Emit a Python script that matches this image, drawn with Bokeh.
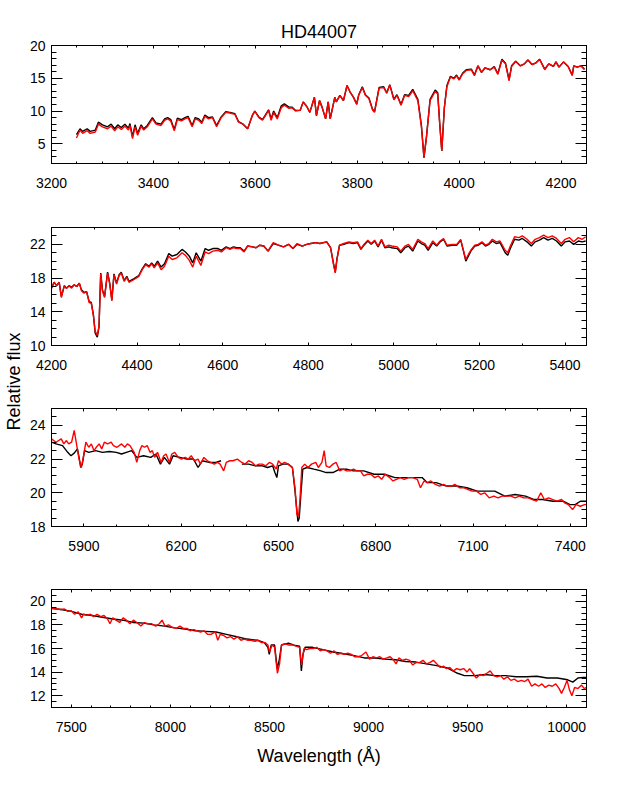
from bokeh.plotting import figure
from bokeh.layouts import row, column
from bokeh.models import Range1d, FixedTicker, LinearAxis, CustomLabelingPolicy, Spacer
from bokeh.embed import file_html
from bokeh.resources import INLINE

NaN = float("nan")

TITLE = "HD44007"
XLABEL = "Wavelength (Å)"
YLABEL = "Relative flux"

# ---------------- Panel 1 ----------------
wl1 = [3249, 3256, 3261, 3270, 3276, 3286, 3292, 3300, 3310, 3317,
       3324, 3330, 3337, 3344, 3351, 3354, 3359, 3364, 3369, 3376,
       3381, 3388, 3398, 3405, 3415, 3422, 3428, 3434, 3441, 3447,
       3455, 3462, 3468, 3476, 3482, 3489, 3495, 3501, 3508, 3516,
       3524, 3533, 3542, 3550, 3560, 3567, 3576, 3585, 3594, 3599,
       3607, 3614, 3619, 3626, 3631, 3636, 3643, 3651, 3657, 3666,
       3672, 3679, 3688, 3694, 3701, 3707, 3716, 3720, 3726, 3731,
       3738, 3743, 3747, 3756, 3759, 3766, 3773, 3780, 3786, 3792,
       3799, 3803, 3810, 3816, 3823, 3830, 3834, 3843, 3852, 3858,
       3864, 3872, 3878, 3886, 3893, 3901, 3909, 3919, 3926, 3931,
       3936, 3943, 3953, 3958, 3962, 3966, 3971, 3976, 3983, 3990,
       3995, 4000, 4007, 4014, 4024, 4030, 4037, 4044, 4051, 4061,
       4069, 4076, 4084, 4091, 4098, 4103, 4111, 4120, 4128, 4135,
       4143, 4150, 4158, 4168, 4176, 4185, 4190, 4196, 4205, 4214,
       4222, 4225, 4232, 4239, 4246]
red1 = [5.9, 7.1, 6.6, 7.0, 6.6, 6.8, 8.0, 7.6, 7.3, 7.7,
        7.0, 7.6, 7.2, 7.7, 7.1, 7.8, 5.8, 7.6, 6.3, 7.7,
        7.1, 7.6, 8.8, 8.0, 7.8, 8.6, 8.8, 8.5, 7.0, 8.7,
        8.5, 8.8, 9.0, 7.6, 8.8, 8.6, 8.1, 9.2, 8.8, 9.0,
        7.6, 9.0, 9.8, 9.7, 9.5, 8.3, 8.0, 7.3, 9.3, 10.0,
        9.0, 8.6, 9.2, 10.1, 8.6, 9.8, 8.8, 10.5, 10.9, 10.4,
        10.5, 10.0, 10.1, 11.4, 10.7, 9.8, 12.1, 9.3, 11.6, 10.6,
        8.8, 11.4, 8.8, 12.1, 11.4, 12.4, 11.6, 13.9, 12.9, 12.2,
        11.0, 12.4, 13.6, 12.4, 11.9, 10.2, 9.8, 13.5, 13.6, 12.7,
        14.0, 11.7, 12.4, 10.9, 12.4, 12.2, 13.1, 11.6, 7.6, 2.9,
        6.1, 11.6, 13.0, 12.6, 8.0, 3.9, 10.5, 13.7, 15.2, 14.9,
        15.4, 14.7, 15.7, 16.2, 16.3, 15.4, 16.9, 15.9, 16.6, 16.3,
        16.7, 15.6, 17.8, 17.2, 14.6, 16.8, 17.6, 16.9, 17.2, 17.8,
        17.1, 17.3, 17.9, 16.3, 17.2, 16.8, 17.5, 16.7, 17.5, 16.8,
        15.4, 16.9, 16.7, 16.9, 16.3]
black1 = [6.4, 7.3, 6.9, 7.3, 6.9, 7.1, 8.3, 7.9, 7.6, 8.0,
          7.3, 7.9, 7.5, 8.0, 7.4, 8.1, 6.1, 7.9, 6.6, 7.9,
          7.3, 7.8, 9.0, 8.2, 8.0, 8.8, 9.0, 8.7, 7.2, 8.9,
          8.7, 9.0, 9.2, 7.8, 9.0, 8.8, 8.3, 9.4, 9.0, 9.1,
          7.8, 9.1, 9.9, 9.8, 9.6, 8.4, 8.0, 7.3, 9.3, 10.0,
          9.1, 8.7, 9.3, 10.2, 8.8, 10.0, 9.0, 10.8, 11.1, 10.6,
          10.6, 10.1, 10.1, 11.4, 10.7, 9.8, 12.1, 9.3, 11.6, 10.6,
          8.8, 11.4, 8.8, 12.1, 11.4, 12.4, 11.6, 13.9, 12.9, 12.2,
          11.1, 12.5, 13.7, 12.5, 12.0, 10.3, 9.9, 13.6, 13.7, 12.8,
          14.0, 11.8, 12.5, 11.0, 12.5, 12.4, 13.3, 11.8, 7.8, 2.9,
          6.1, 11.8, 13.2, 12.8, 8.0, 3.9, 10.5, 13.9, 15.3, 15.0,
          15.5, 14.8, 15.8, 16.3, 16.4, 15.5, 16.9, 15.9, 16.6, 16.3,
          16.8, 15.7, 17.9, 17.3, 14.8, 16.9, 17.6, 16.9, 17.2, 17.8,
          17.1, 17.3, 17.9, 16.4, 17.2, 16.8, 17.5, 16.7, 17.5, 16.8,
          15.5, 16.9, 16.7, 16.9, 16.4]

# ---------------- Panel 2 ----------------
wl2 = [4200, 4206, 4212, 4218, 4223, 4230, 4235, 4241, 4247, 4253,
       4259, 4265, 4270, 4276, 4282, 4288, 4293, 4298, 4302, 4307,
       4311, 4315, 4319, 4324, 4331, 4336, 4341, 4346, 4352, 4358,
       4363, 4370, 4376, 4381, 4392, 4404, 4412, 4420, 4428, 4434,
       4440, 4448, 4456, 4464, 4474, 4482, 4493, 4505, 4513, 4522,
       4530, 4538, 4549, 4559, 4567, 4577, 4589, 4597, 4608, 4617,
       4625, 4633, 4641, 4650, 4658, 4670, 4678, 4686, 4696, 4706,
       4718, 4730, 4742, 4754, 4764, 4774, 4786, 4796, 4806, 4817,
       4827, 4843, 4852, 4859, 4863, 4867, 4873, 4883, 4895, 4905,
       4915, 4923, 4930, 4939, 4947, 4955, 4963, 4971, 4979, 4988,
       4995, 5008, 5016, 5026, 5034, 5044, 5056, 5064, 5072, 5080,
       5091, 5100, 5108, 5116, 5124, 5136, 5147, 5156, 5163, 5168,
       5174, 5181, 5189, 5197, 5206, 5214, 5222, 5230, 5239, 5248,
       5260, 5266, 5272, 5282, 5292, 5300, 5311, 5321, 5330, 5340,
       5350, 5360, 5370, 5380, 5391, 5400, 5410, 5420, 5431, 5440,
       5448]
red2 = [16.8, 17.5, 17.1, 17.5, 15.7, 17.1, 16.8, 17.1, 16.8, 17.2,
        17.0, 17.4, 16.5, 16.2, 16.4, 15.1, 15.0, 13.5, 11.7, 11.2,
        12.3, 18.5, 16.5, 15.7, 18.6, 17.3, 15.3, 18.4, 17.3, 18.3,
        18.6, 17.6, 18.1, 17.5, 17.8, 18.2, 19.0, 19.6, 19.3, 19.7,
        19.2, 19.8, 19.0, 19.4, 20.6, 20.2, 20.4, 21.0, 20.7, 20.1,
        19.3, 20.6, 19.5, 21.1, 20.9, 21.2, 21.3, 21.1, 21.6, 21.4,
        21.6, 21.5, 21.5, 21.1, 21.8, 21.7, 21.6, 21.9, 21.8, 21.2,
        22.2, 21.9, 21.7, 22.0, 21.5, 22.1, 21.8, 22.0, 22.1, 22.2,
        22.1, 22.3, 21.6, 19.6, 18.6, 20.2, 21.9, 22.1, 22.3, 22.2,
        22.3, 21.5, 22.0, 22.5, 22.1, 22.5, 21.8, 22.6, 21.7, 21.9,
        21.8, 21.7, 21.2, 21.8, 22.0, 21.4, 22.6, 22.3, 22.1, 21.5,
        22.4, 21.9, 22.4, 22.7, 21.9, 22.0, 22.0, 22.6, 21.2, 20.2,
        20.8, 21.4, 21.9, 22.0, 22.3, 21.9, 22.1, 22.6, 22.3, 22.4,
        21.3, 21.0, 21.8, 22.9, 22.8, 23.0, 22.6, 22.1, 22.6, 22.8,
        23.1, 22.8, 23.0, 22.7, 22.1, 22.6, 22.8, 22.3, 22.8, 22.6,
        22.9]
black2 = [16.8, 17.5, 17.1, 17.5, 15.8, 17.1, 16.8, 17.1, 16.9, 17.2,
          17.0, 17.4, 16.6, 16.3, 16.4, 15.2, 15.1, 13.6, 11.5, 11.0,
          12.2, 18.6, 16.6, 15.8, 18.7, 17.4, 15.4, 18.5, 17.4, 18.4,
          18.7, 17.7, 18.2, 17.6, 17.9, 18.3, 19.1, 19.7, 19.4, 19.8,
          19.4, 20.0, 19.3, 19.7, 20.9, 20.6, 20.8, 21.4, 21.1, 20.6,
          19.8, 21.0, 20.0, 21.5, 21.3, 21.5, 21.5, 21.3, 21.7, 21.5,
          21.7, 21.6, 21.6, 21.2, 21.8, 21.7, 21.6, 21.9, 21.8, 21.2,
          22.1, 21.9, 21.7, 22.0, 21.5, 22.0, 21.8, 22.0, 22.1, 22.2,
          22.1, 22.3, 21.6, 19.7, 18.7, 20.3, 21.9, 22.0, 22.2, 22.1,
          22.2, 21.4, 21.9, 22.4, 22.0, 22.4, 21.7, 22.5, 21.6, 21.7,
          21.6, 21.5, 21.0, 21.6, 21.8, 21.2, 22.4, 22.1, 21.9, 21.3,
          22.2, 21.8, 22.3, 22.6, 21.8, 21.9, 21.9, 22.5, 21.1, 20.0,
          20.6, 21.3, 21.8, 21.9, 22.2, 21.8, 22.0, 22.4, 22.1, 22.2,
          21.0, 20.7, 21.5, 22.6, 22.5, 22.7, 22.3, 21.8, 22.3, 22.5,
          22.8, 22.5, 22.7, 22.4, 21.8, 22.3, 22.4, 22.0, 22.4, 22.3,
          22.4]

# ---------------- Panel 3 ----------------
wl3_red = [5800, 5814, 5830, 5838, 5846, 5853, 5862, 5870, 5878, 5885,
           5892, 5899, 5906, 5915, 5923, 5931, 5938, 5947, 5955, 5963,
           5973, 5984, 5991, 6002, 6016, 6026, 6034, 6042, 6055, 6063,
           6072, 6079, 6087, 6095, 6104, 6111, 6118, 6127, 6138, 6146,
           6153, 6164, 6171, 6180, 6191, 6201, 6212, 6222, 6231, 6241,
           6252, 6259, 6270, 6281, 6291, 6302, 6312, 6320, 6331, 6339,
           6350, 6360, 6373, 6387, 6397, 6408, 6419, 6429, 6440, 6450,
           6461, 6472, 6482, 6493, 6500, 6509, 6519, 6530, 6543, 6551,
           6557, 6562, 6566, 6572, 6581, 6591, 6602, 6615, 6623, 6634,
           6641, 6647, 6657, 6668, 6678, 6689, 6700, 6710, 6721, 6731,
           6742, 6753, 6763, 6774, 6785, 6797, 6808, 6818, 6829, 6843,
           6853, 6864, 6875, 6888, 6901, 6914, 6928, 6938, 6949, 6959,
           6970, 6984, 6997, 7009, 7020, 7034, 7044, 7058, 7071, 7083,
           7097, 7111, 7124, 7136, 7150, 7164, 7177, 7190, 7203, 7217,
           7230, 7243, 7256, 7270, 7283, 7296, 7309, 7320, 7333, 7346,
           7359, 7373, 7383, 7394, 7407, 7418, 7431, 7444, 7450]
red3 = [23.2, 23.0, 23.2, 22.9, 23.1, 22.9, 23.0, 23.7, 22.8, 22.0,
        21.5, 22.2, 23.0, 22.7, 22.9, 22.5, 22.7, 22.9, 22.6, 23.0,
        22.9, 23.0, 22.8, 22.7, 22.9, 22.7, 22.9, 22.8, 22.4, 21.8,
        22.5, 22.8, 22.7, 22.8, 22.4, 22.5, 22.1, 22.4, 21.8, 22.2,
        22.3, 21.8, 22.3, 22.4, 22.1, 22.0, 22.1, 22.0, 22.2, 21.9,
        22.0, 21.7, 22.1, 21.9, 21.8, 21.7, 21.8, 21.7, 21.3, 21.8,
        21.9, 21.9, 22.0, 21.8, 21.7, 21.9, 21.8, 21.6, 21.7, 21.7,
        21.6, 21.8, 21.7, 21.4, 21.9, 21.7, 21.8, 21.7, 21.5, 20.3,
        18.7, 18.6, 19.5, 21.5, 21.7, 21.5, 21.7, 21.8, 21.5, 21.8,
        22.5, 21.6, 21.5, 21.7, 21.8, 21.3, 21.4, 21.3, 21.3, 21.4,
        21.3, 21.3, 21.0, 21.1, 21.1, 20.9, 21.0, 20.8, 21.1, 20.9,
        20.7, 20.8, 20.9, 20.8, 20.9, 20.9, 20.8, 20.3, 20.7, 20.6,
        20.7, 20.5, 20.4, 20.5, 20.4, 20.4, 20.5, 20.3, 20.3, 20.2,
        20.1, 20.1, 19.9, 20.0, 19.7, 19.8, 19.7, 19.8, 19.8, 19.8,
        19.7, 19.8, 19.7, 19.7, 19.6, 19.5, 20.0, 19.6, 19.7, 19.6,
        19.5, 19.6, 19.4, 19.3, 19.0, 19.3, 19.2, 19.3, 19.3]
wl3_black = [5800, 5814, 5834, 5850, 5860, 5870, 5880, 5885, 5890, 5895,
             5902, 5915, 5936, 5957, 5978, 6000, 6016, 6031, 6047, 6063,
             6084, 6106, 6122, 6136, 6148, 6164, 6175, 6196, 6217, 6238,
             6252, 6265, 6286, 6307, 6323, 6355, 6387, 6408, 6429, 6450,
             6466, 6482, 6489, 6495, 6500, 6514, 6530, 6543, 6551, 6560,
             6564, 6569, 6575, 6588, 6609, 6631, 6647, 6668, 6689, 6710,
             6731, 6763, 6795, 6827, 6859, 6890, 6922, 6943, 6959, 6986,
             7018, 7049, 7081, 7113, 7145, 7167, 7198, 7230, 7262, 7289,
             7315, 7346, 7378, 7399, 7415, 7431, 7450]
black3 = [23.0, 22.9, 22.8, 22.4, 22.2, 22.35, 22.6, 22.1, 21.5, 21.7,
          22.5, 22.4, 22.5, 22.4, 22.45, 22.4, 22.3, 22.4, 22.5, 22.1,
          22.2, 22.1, 22.3, 21.7, 22.1, 21.7, 22.2, 22.1, 22.0, 22.0,
          21.5, 21.9, 21.8, 21.8, 21.9, NaN, 21.7, 21.7, 21.6, 21.6,
          21.5, 21.6, 21.2, 20.9, 21.6, 21.7, 21.7, 21.5, 20.1, 18.3,
          18.5, 19.9, 21.4, 21.5, 21.4, 21.3, 21.2, 21.2, 21.4, 21.4,
          21.3, 21.3, 21.1, 21.1, 20.9, 20.9, 20.9, 20.9, 20.6, 20.6,
          20.4, 20.4, 20.3, 20.1, 20.1, 20.1, 19.8, 19.9, 19.8, 19.6,
          19.6, 19.5, 19.5, 19.3, 19.3, 19.5, 19.5]

# ---------------- Panel 4 ----------------
wl4_red = [7400, 7448, 7465, 7483, 7500, 7517, 7535, 7552, 7561, 7578,
           7596, 7613, 7630, 7648, 7665, 7683, 7695, 7709, 7726, 7744,
           7761, 7778, 7796, 7813, 7831, 7851, 7869, 7886, 7904, 7926,
           7944, 7958, 7973, 7991, 8008, 8031, 8048, 8065, 8083, 8100,
           8118, 8135, 8152, 8170, 8187, 8205, 8227, 8239, 8252, 8269,
           8286, 8304, 8321, 8339, 8356, 8373, 8391, 8408, 8426, 8443,
           8460, 8478, 8492, 8500, 8513, 8526, 8540, 8551, 8561, 8579,
           8596, 8617, 8634, 8652, 8662, 8674, 8687, 8704, 8721, 8739,
           8756, 8773, 8791, 8808, 8826, 8843, 8860, 8878, 8895, 8913,
           8930, 8947, 8965, 8987, 9005, 9022, 9040, 9057, 9074, 9092,
           9109, 9127, 9139, 9153, 9170, 9188, 9208, 9222, 9240, 9257,
           9275, 9292, 9309, 9327, 9344, 9362, 9379, 9393, 9410, 9428,
           9445, 9462, 9480, 9497, 9510, 9527, 9544, 9562, 9579, 9597,
           9614, 9631, 9649, 9666, 9683, 9701, 9718, 9736, 9753, 9771,
           9788, 9805, 9823, 9840, 9858, 9875, 9892, 9910, 9927, 9945,
           9962, 9974, 9988, 10002, 10014, 10026, 10040, 10057, 10075, 10089,
           10100]
red4 = [19.4, 19.3, 19.35, 19.15, 19.2, 18.9, 19.1, 18.6, 18.9, 18.8,
        18.9, 18.7, 18.9, 18.7, 18.8, 18.5, 18.1, 18.6, 18.4, 18.2,
        18.6, 18.4, 18.1, 18.4, 18.2, 17.9, 18.2, 18.1, 18.1, 17.9,
        18.1, 18.4, 17.9, 18.0, 17.8, 17.7, 17.9, 17.7, 17.7, 17.5,
        17.6, 17.5, 17.4, 17.5, 17.2, 17.2, 17.4, 16.7, 17.2, 17.1,
        16.9, 17.0, 16.8, 17.0, 16.7, 16.8, 16.7, 16.7, 16.6, 16.7,
        16.5, 16.5, 16.3, 15.7, 16.3, 16.1, 13.9, 14.7, 16.3, 16.4,
        16.3, 16.3, 16.2, 16.1, 14.6, 16.0, 15.9, 16.0, 16.0, 16.1,
        15.8, 15.9, 15.8, 15.6, 15.8, 15.5, 15.6, 15.5, 15.6, 15.5,
        15.3, 15.3, 15.4, 15.7, 15.1, 15.3, 15.2, 15.3, 15.1, 15.2,
        15.3, 15.0, 14.7, 15.2, 15.0, 15.1, 15.0, 14.6, 14.8, 14.8,
        15.0, 14.7, 14.8, 15.0, 14.7, 14.4, 14.5, 14.3, 14.4, 14.1,
        14.3, 14.2, 14.3, 14.0, 14.3, 13.9, 13.5, 13.8, 13.7, 13.9,
        14.1, 13.7, 13.6, 13.7, 13.4, 13.6, 13.3, 13.4, 13.2, 13.3,
        13.2, 13.4, 12.8, 13.0, 12.8, 13.0, 12.7, 12.9, 12.8, 13.0,
        12.6, 12.2, 12.7, 13.3, 12.5, 12.0, 12.7, 12.6, 12.9, 12.6,
        12.7]
wl4_black = [7400, 7448, 7500, 7552, 7605, 7657, 7709, 7761, 7813, 7865,
             7917, 7970, 8022, 8074, 8126, 8178, 8230, 8283, 8335, 8387,
             8439, 8474, 8492, 8499, 8509, 8526, 8539, 8549, 8561, 8596,
             8631, 8652, 8661, 8669, 8680, 8718, 8770, 8822, 8874, 8927,
             8979, 9031, 9083, 9135, 9188, 9240, 9292, 9344, 9397, 9449,
             9484, 9536, 9588, 9640, 9692, 9744, 9797, 9849, 9901, 9953,
             10005, 10031, 10057, 10083, 10100]
black4 = [19.4, 19.3, 19.15, 18.9, 18.8, 18.65, 18.5, 18.4, 18.2, 18.15,
          18.0, 17.9, 17.75, 17.65, 17.5, 17.45, 17.4, 17.2, 17.0, 16.8,
          16.7, 16.5, 16.1, 15.5, 16.3, 16.3, 14.3, 15.0, 16.3, 16.45,
          16.25, 16.2, 14.1, 15.5, 16.1, 16.1, 15.9, 15.7, 15.55, 15.4,
          15.2, 15.2, 15.1, 15.05, 14.9, 14.85, 14.7, 14.55, 14.35, 13.9,
          13.7, 13.7, 13.8, 13.7, 13.7, 13.6, 13.6, 13.65, 13.5, 13.5,
          13.35, 13.15, 13.5, 13.55, 13.55]

# ---------------- Axes: ranges and ticks ----------------
x_ranges = [(3200, 4250), (4200, 5450), (5800, 7450), (7400, 10100)]
y_ranges = [(2, 20), (10, 24), (18, 25), (11, 21)]
x_ticks = [[3200, 3400, 3600, 3800, 4000, 4200],
           [4200, 4400, 4600, 4800, 5000, 5200, 5400],
           [5900, 6200, 6500, 6800, 7100, 7400],
           [7500, 8000, 8500, 9000, 9500, 10000]]
x_minor_step = [50, 100, 100, 100]
y_ticks = [[5, 10, 15, 20], [10, 14, 18, 22], [18, 20, 22, 24], [12, 14, 16, 18, 20]]
y_minor_step = [1, 1, 0.5, 0.5]

series = [(wl1, black1, wl1, red1), (wl2, black2, wl2, red2),
          (wl3_black, black3, wl3_red, red3), (wl4_black, black4, wl4_red, red4)]

FONT = "Liberation Sans"
LEFT_W = 24
TOP_PAD = 10
borders_top = [35, 33, 32, 32]
borders_bottom = [31, 31, 31, 64]

HIDE_LABELS = """
try { for (let i = 0; i < indices.size; i++) { indices.unset(i) } return indices }
catch (e) { return new Set() }
"""


def minor_list(lo, hi, step):
    out = []
    v = lo
    while v <= hi + 1e-9:
        out.append(round(v, 4))
        v += step
    return out


def style_axis(ax, tick_in, minor_in, labels=True):
    ax.axis_line_color = "black"
    ax.axis_line_width = 1
    ax.major_tick_in = tick_in
    ax.major_tick_out = 0
    ax.minor_tick_in = minor_in
    ax.minor_tick_out = 0
    ax.major_tick_line_color = "black"
    ax.minor_tick_line_color = "black"
    ax.major_label_text_font = FONT
    ax.major_label_text_color = "black"
    if labels:
        ax.major_label_text_font_size = "14px"
    else:
        ax.major_label_text_font_size = "0px"
        ax.major_label_policy = CustomLabelingPolicy(code=HIDE_LABELS)
        ax.major_label_standoff = 0


panels = []
for i in range(4):
    xr, yr = x_ranges[i], y_ranges[i]
    p = figure(frame_width=535, frame_height=118,
               x_range=Range1d(*xr), y_range=Range1d(*yr),
               output_backend="svg", toolbar_location=None,
               x_axis_location=None, y_axis_location=None,
               min_border_left=51 - LEFT_W, min_border_right=12,
               min_border_top=borders_top[i], min_border_bottom=borders_bottom[i])
    p.grid.visible = False
    p.outline_line_color = "black"
    p.outline_line_width = 1

    xt = FixedTicker(ticks=x_ticks[i], minor_ticks=minor_list(xr[0], xr[1], x_minor_step[i]))
    yt = FixedTicker(ticks=y_ticks[i], minor_ticks=minor_list(yr[0], yr[1], y_minor_step[i]))

    xb = LinearAxis(ticker=xt)
    style_axis(xb, 3, 2, True)
    xb.major_label_standoff = 14
    if i == 3:
        xb.axis_label = XLABEL
        xb.axis_label_text_font = FONT
        xb.axis_label_text_font_size = "18px"
        xb.axis_label_text_font_style = "normal"
        xb.axis_label_text_color = "black"
        xb.axis_label_standoff = 11
    p.add_layout(xb, "below")
    xa = LinearAxis(ticker=xt)
    style_axis(xa, 3, 2, False)
    p.add_layout(xa, "above")

    yl = LinearAxis(ticker=yt)
    style_axis(yl, 11, 5, True)
    yl.major_label_standoff = 6
    p.add_layout(yl, "left")
    yrr = LinearAxis(ticker=yt)
    style_axis(yrr, 11, 5, False)
    p.add_layout(yrr, "right")

    wb, fb, wr, fr = series[i]
    p.line(wb, fb, line_color="black", line_width=1.4)
    p.line(wr, fr, line_color="red", line_width=1.4)

    if i == 0:
        p.title.text = TITLE
        p.title.align = "center"
        p.title.offset = 5
        p.title.standoff = 7
        p.title.text_font = FONT
        p.title.text_font_size = "18px"
        p.title.text_font_style = "normal"
        p.title.text_color = "black"
    panels.append(p)

H = TOP_PAD + sum(borders_top) + sum(borders_bottom) + 4 * 118
lab = figure(width=LEFT_W, height=H, x_range=Range1d(0, 1), y_range=Range1d(0, 1),
             output_backend="svg", toolbar_location=None,
             x_axis_location=None, y_axis_location="left",
             min_border_left=0, min_border_right=0, min_border_top=0, min_border_bottom=9)
lab.grid.visible = False
lab.outline_line_color = None
lab.yaxis.ticker = FixedTicker(ticks=[], minor_ticks=[])
lab.yaxis.axis_line_color = None
lab.yaxis.major_tick_line_color = None
lab.yaxis.minor_tick_line_color = None
lab.yaxis.major_tick_in = 0
lab.yaxis.major_tick_out = 0
lab.yaxis.minor_tick_in = 0
lab.yaxis.minor_tick_out = 0
lab.yaxis.major_label_standoff = 0
lab.yaxis.axis_label = YLABEL
lab.yaxis.axis_label_standoff = 0
lab.yaxis.axis_label_text_font = FONT
lab.yaxis.axis_label_text_font_size = "18px"
lab.yaxis.axis_label_text_font_style = "normal"
lab.yaxis.axis_label_text_color = "black"

layout = row(lab, column(Spacer(height=TOP_PAD, width=10), *panels))
open("out.html", "w").write(file_html(layout, INLINE))
